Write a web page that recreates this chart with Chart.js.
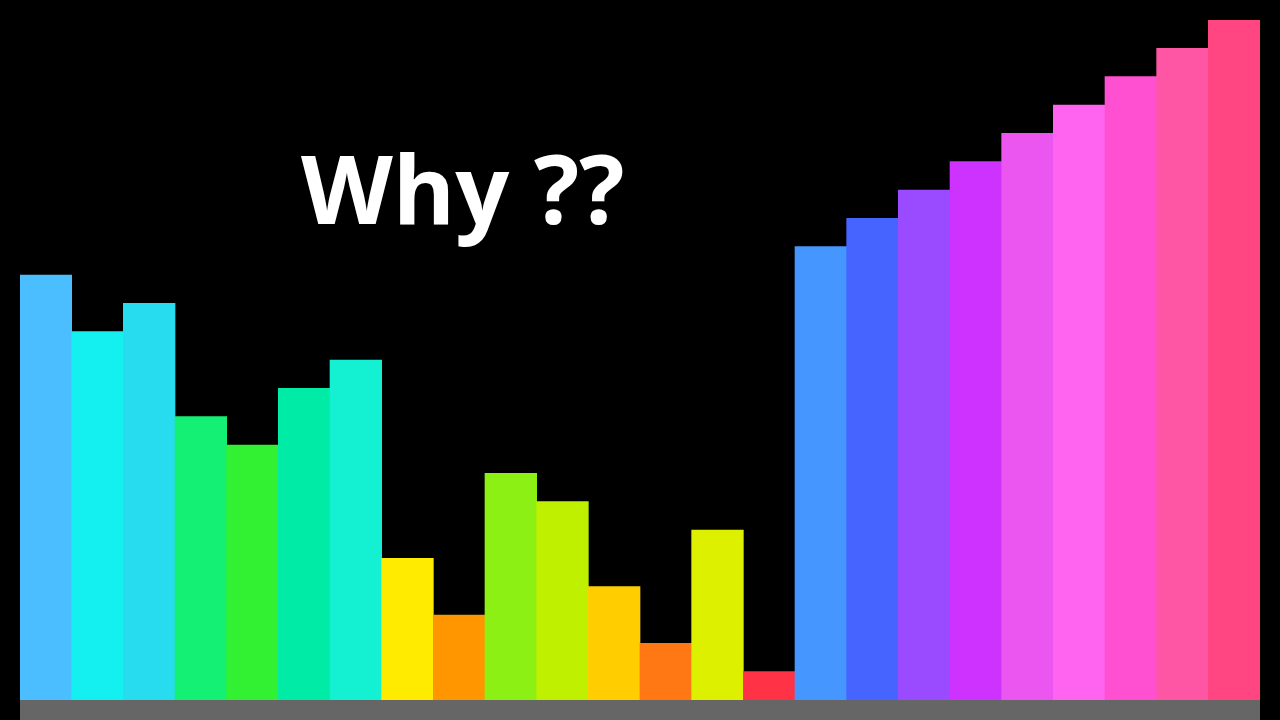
<!DOCTYPE html>
<html>
<head>
<meta charset="utf-8">
<script src="https://cdn.jsdelivr.net/npm/chart.js@4"></script>
<style>
    html, body { margin: 0; padding: 0; background: #000; }
    #wrap { position: relative; width: 1280px; height: 720px; }
    #title {
        position: absolute; left: 301px; top: 140px;
        font-family: "Open Sans", sans-serif; font-weight: 700;
        font-size: 95px; line-height: 95px; color: #fff; white-space: pre;
    }
</style>
</head>
<body>
<div id="wrap">
    <canvas id="whyChart" width="1280" height="720"></canvas>
    <div id="title">Why ??</div>
</div>
<script>
    // Bar heights (one step = one unit)
    const labels = ['1','2','3','4','5','6','7','8','9','10','11','12','13','14','15','16','17','18','19','20','21','22','23','24'];
    const values = [15, 13, 14, 10, 9, 11, 12, 5, 3, 8, 7, 4, 2, 6, 1, 16, 17, 18, 19, 20, 21, 22, 23, 24];
    const barColors = [
        '#4BBEFF', '#14F0F0', '#28DCF0', '#14F073', '#32F032', '#00EBA5', '#14F0D2',
        '#FFEB00', '#FF9600', '#8CF014', '#BEF000', '#FFCD00', '#FF7814', '#DCF000', '#FF3246',
        '#4696FF', '#4664FF', '#9B4BFF', '#CD32FF', '#EB55F0', '#FF64F0', '#FF50D2', '#FF55A5', '#FF4682'
    ];

    // grey floor under the bars
    const floorPlugin = {
        id: 'floor',
        beforeDatasetsDraw(chart) {
            const { ctx, chartArea } = chart;
            ctx.save();
            ctx.fillStyle = '#666666';
            ctx.fillRect(chartArea.left, chartArea.bottom, chartArea.right - chartArea.left, chart.height - chartArea.bottom);
            ctx.restore();
        }
    };

    const ctx = document.getElementById('whyChart').getContext('2d');
    new Chart(ctx, {
        type: 'bar',
        data: {
            labels: labels,
            datasets: [{
                data: values,
                backgroundColor: barColors,
                borderWidth: 0,
                categoryPercentage: 1.0,
                barPercentage: 1.0,
            }],
        },
        options: {
            responsive: false,
            animation: false,
            layout: { padding: { left: 20, right: 20, top: 20, bottom: 20 } },
            plugins: {
                legend: { display: false },
                tooltip: { enabled: false },
            },
            scales: {
                x: { display: false },
                y: { display: false, min: 0, max: 24 },
            },
        },
        plugins: [floorPlugin],
    });
</script>
</body>
</html>
